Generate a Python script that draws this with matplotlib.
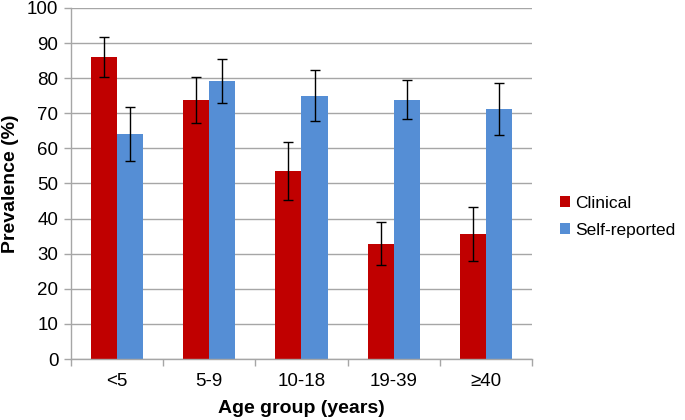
import numpy as np
import matplotlib.pyplot as plt

plt.rcParams['font.family'] = ['Liberation Sans', 'DejaVu Sans']

age_groups = ['<5', '5-9', '10-18', '19-39', '≥40']
clinical = [86.0, 73.9, 53.6, 32.9, 35.6]
clinical_low = [80.4, 67.2, 45.3, 26.9, 28.0]
clinical_high = [91.7, 80.4, 61.8, 39.0, 43.4]
self_reported = [64.0, 79.2, 75.0, 73.9, 71.1]
self_low = [56.3, 73.0, 67.9, 68.3, 63.8]
self_high = [71.9, 85.4, 82.2, 79.6, 78.5]

red = '#C00000'
blue = '#558ED5'
grid_c = '#A6A6A6'

fig = plt.figure(figsize=(6.85, 4.2), dpi=100)
ax = fig.add_axes([0.1036, 0.1452, 0.6730, 0.8358])

x = np.arange(len(age_groups))
w = 0.283


def errs(vals, low, high):
    v = np.array(vals)
    return [v - np.array(low), np.array(high) - v]


ax.bar(x - w / 2, clinical, w, color=red, label='Clinical', zorder=2)
ax.bar(x + w / 2, self_reported, w, color=blue, label='Self-reported', zorder=2)
ax.errorbar(x - w / 2, clinical, yerr=errs(clinical, clinical_low, clinical_high),
            fmt='none', ecolor='black', elinewidth=1, capsize=3.5, capthick=1, zorder=3)
ax.errorbar(x + w / 2, self_reported, yerr=errs(self_reported, self_low, self_high),
            fmt='none', ecolor='black', elinewidth=1, capsize=3.5, capthick=1, zorder=3)

ax.set_xlim(-0.5, len(age_groups) - 0.5)
ax.set_ylim(0, 100)
ax.set_yticks(np.arange(0, 101, 10))
ax.yaxis.grid(True, color=grid_c, lw=1, zorder=0)
ax.set_axisbelow(True)

ax.set_xticks(x)
ax.set_xticklabels(age_groups, fontsize=13.5)
ax.tick_params(axis='x', length=0, pad=10)
ax.set_xticks(np.arange(-0.5, len(age_groups)), minor=True)
ax.tick_params(axis='x', which='minor', length=5, color=grid_c, width=1)
ax.tick_params(axis='y', length=5, color=grid_c, width=1, labelsize=13.5, pad=4)

for s in ['top', 'right']:
    ax.spines[s].set_visible(False)
for s in ['left', 'bottom']:
    ax.spines[s].set_color(grid_c)
    ax.spines[s].set_linewidth(1)

ax.set_xlabel('Age group (years)', fontsize=14, fontweight='bold', labelpad=7)
ax.set_ylabel('Prevalence (%)', fontsize=14, fontweight='bold', labelpad=6)

ax.legend(loc='center left', bbox_to_anchor=(560 / 685, 1 - 217 / 420),
          bbox_transform=fig.transFigure, frameon=False,
          fontsize=12.5, handlelength=0.6, handleheight=0.6, handletextpad=0.3,
          labelspacing=0.7, borderaxespad=0, borderpad=0)

fig.savefig('out.png', dpi=100)
